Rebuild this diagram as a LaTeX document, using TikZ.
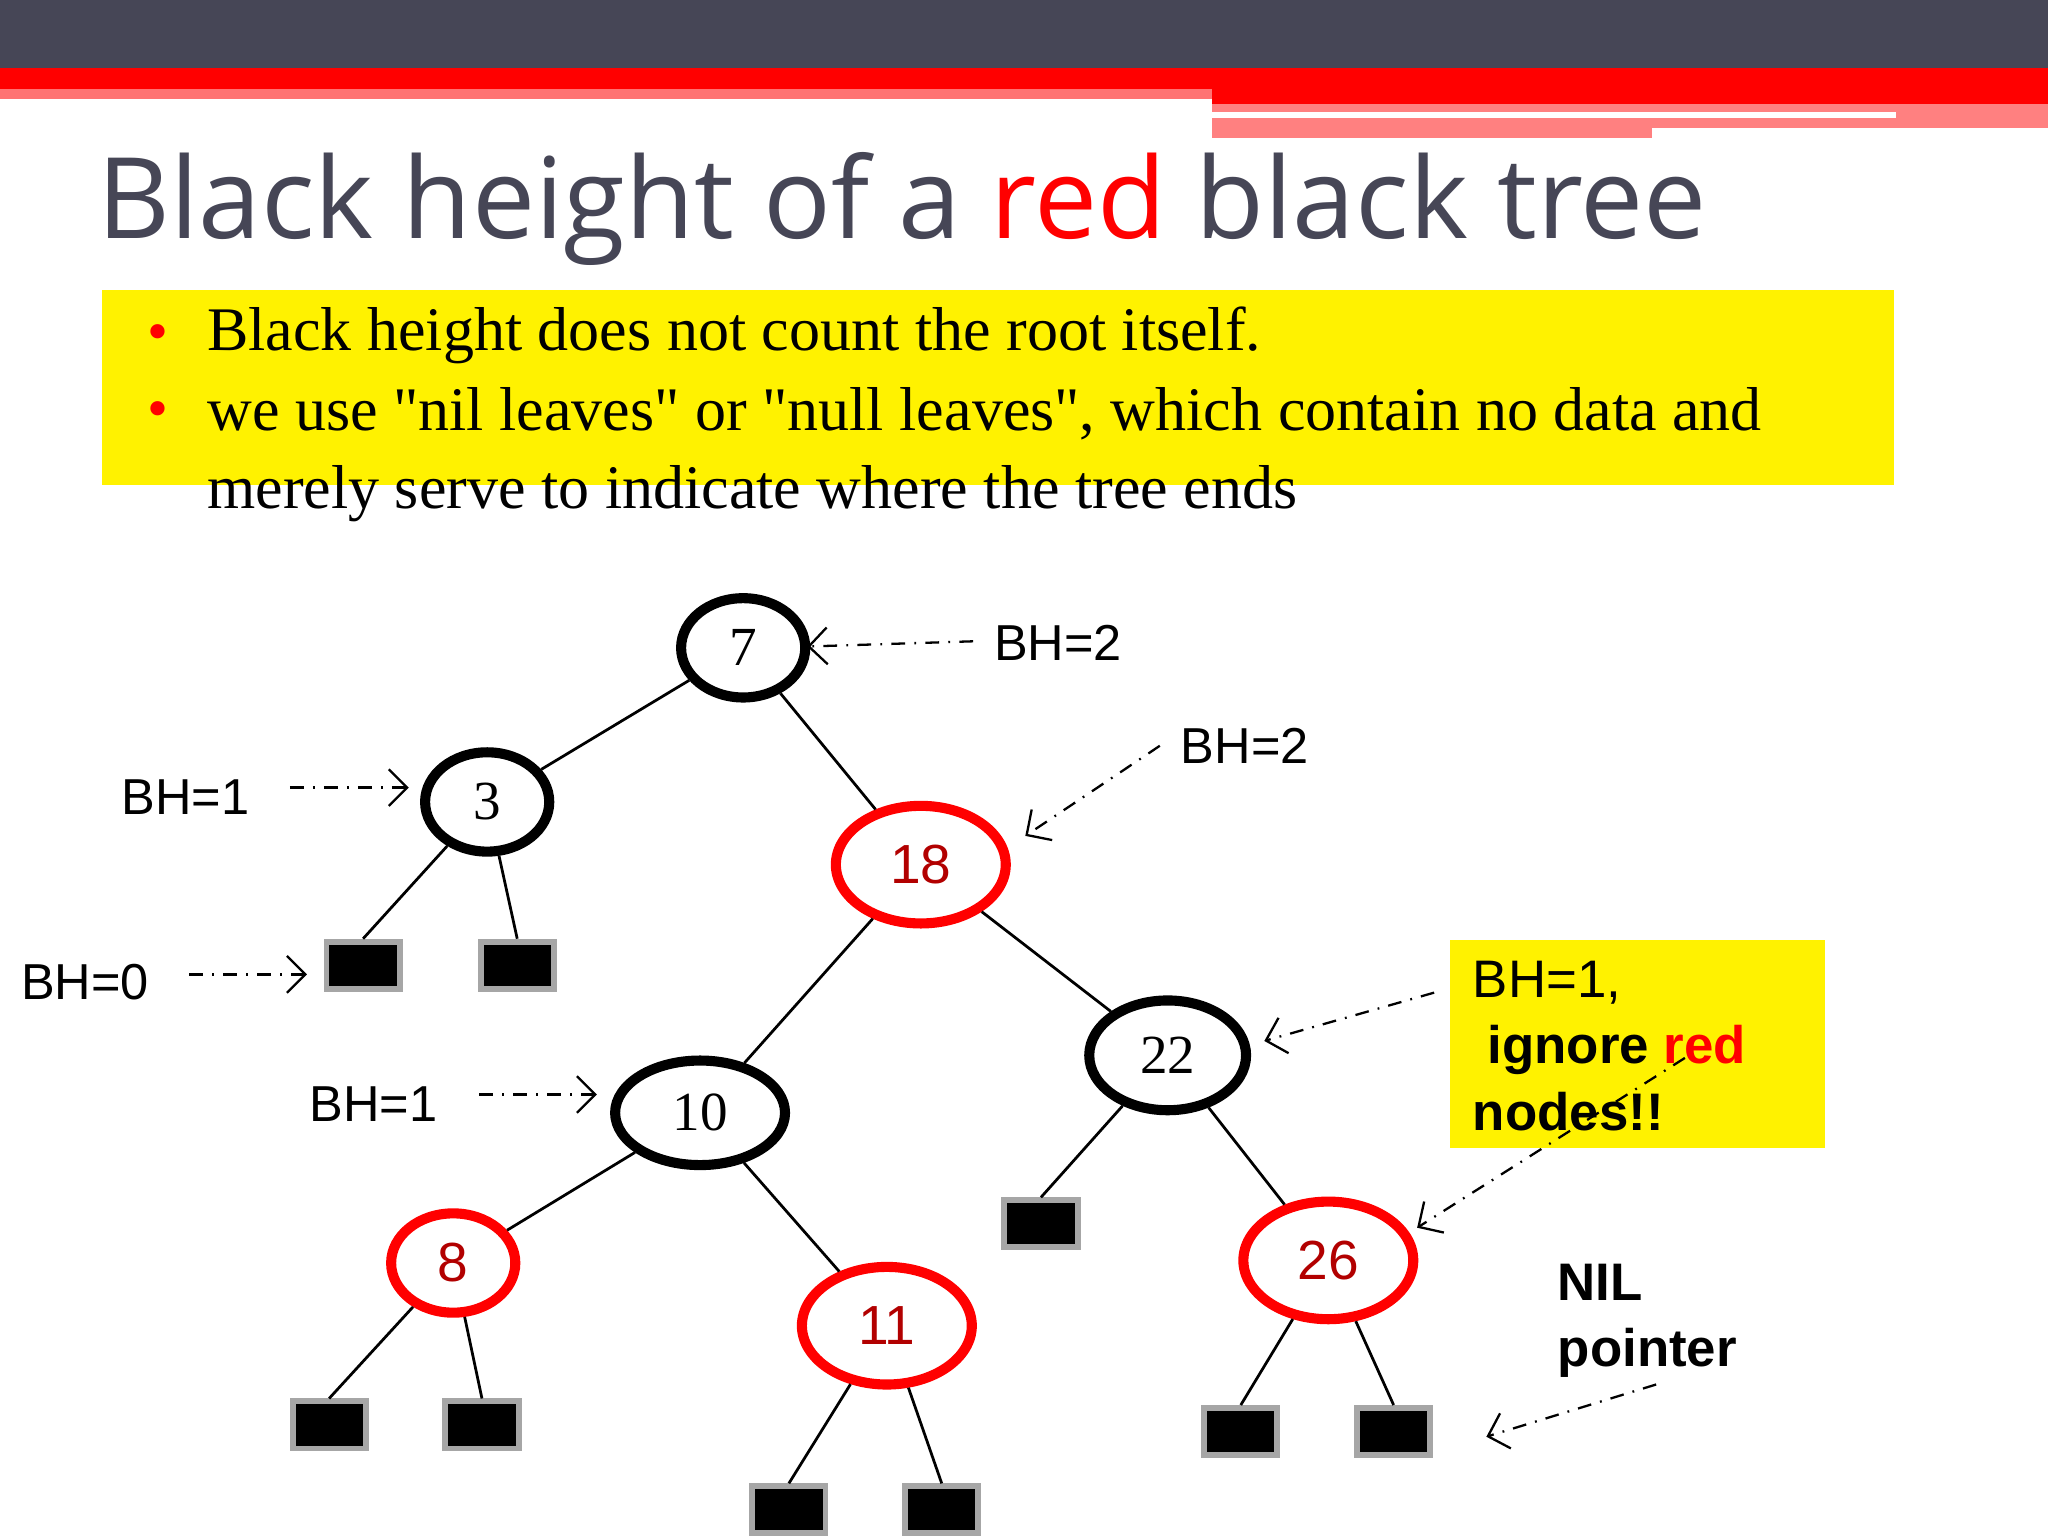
\documentclass[tikz,border=0pt]{standalone}
\usepackage{fontspec}
\setmainfont{Liberation Serif}
\newfontfamily\arialf{Liberation Sans}
\newfontfamily\titlef{Open Sans}
\usetikzlibrary{shapes.geometric,arrows.meta}
\definecolor{slate}{RGB}{70,70,86}
\begin{document}
\begin{tikzpicture}[x=0.01cm,y=-0.01cm,
  bn/.style={ellipse,draw=black,line width=2.2pt,fill=white,minimum width=#1,font=\fontsize{12}{14}\selectfont},
  rn/.style={ellipse,draw=red,line width=2.2pt,fill=white,minimum width=#1,font=\arialf\fontsize{12}{14}\selectfont\color{red!70!black}},
  leaf/.style={rectangle,fill=black,draw=gray!70,line width=1.3pt,minimum width=0.56cm,minimum height=0.36cm,inner sep=0pt},
  bh/.style={font=\arialf\fontsize{11}{13}\selectfont},
  pt/.style={-{Straight Barb[length=4pt]},dash dot,line width=0.5pt},
  edge/.style={line width=0.6pt}]
\useasboundingbox (0,0) rectangle (1568,1176);
\fill[white] (0,0) rectangle (1568,1176);
% header
\fill[slate] (0,0) rectangle (1568,52);
\fill[red] (0,52) rectangle (1568,68);
\fill[red!55] (0,68) rectangle (928,76);
\fill[red] (928,68) rectangle (1568,80);
\fill[red!50] (928,80) rectangle (1568,106);
\draw[white,line width=1.2pt] (928,88) -- (1452,88);
\fill[white] (1265,98) rectangle (1568,106);
% title
\node[anchor=west,font=\titlef\fontsize{24.5}{28}\selectfont,text=slate] (title) at (62,160) {Black height of a \textcolor{red}{red} black tree};
% yellow box
\fill[yellow] (78,222) rectangle (1450,371);
\node[red,font=\fontsize{13}{15}\selectfont] (b1) at (121,259) {\textbullet};
\node[red,font=\fontsize{13}{15}\selectfont] (b2) at (121,318) {\textbullet};
\node[anchor=west,inner sep=0pt,font=\fontsize{13.5}{16}\selectfont] (t1) at (158,257) {Black height does not count the root itself.};
\node[anchor=north west,align=left,font=\fontsize{13.5}{17}\selectfont,inner sep=0pt] (t2) at (158,296) {we use \textquotedbl nil leaves\textquotedbl{} or \textquotedbl null leaves\textquotedbl, which contain no data and\\merely serve to indicate where the tree ends};
% nodes
\node[bn=0.95cm,minimum height=0.76cm] (n7) at (569,496) {7};
\node[bn=0.95cm,minimum height=0.76cm] (n3) at (373,614) {3};
\node[rn=1.3cm,minimum height=0.9cm] (n18) at (705,662) {18};
\node[bn=1.2cm,minimum height=0.84cm] (n22) at (894,808) {22};
\node[bn=1.3cm,minimum height=0.8cm] (n10) at (536,852) {10};
\node[rn=0.95cm,minimum height=0.76cm] (n8) at (347,967) {8};
\node[rn=1.3cm,minimum height=0.9cm] (n11) at (679,1015) {11};
\node[rn=1.3cm,minimum height=0.9cm] (n26) at (1017,965) {26};
\foreach \n/\x/\y in {l1/278/739,l2/396/739,l3/797/937,l4/252/1091,l5/369/1091,l6/604/1156,l7/721/1156,l8/950/1096,l9/1067/1096}
  \node[leaf] (\n) at (\x,\y) {};
% edges
\draw[edge] (n7) -- (n3); \draw[edge] (n7) -- (n18);
\draw[edge] (n3) -- (l1.north); \draw[edge] (n3) -- (l2.north);
\draw[edge] (n18) -- (n10); \draw[edge] (n18) -- (n22);
\draw[edge] (n22) -- (l3.north); \draw[edge] (n22) -- (n26);
\draw[edge] (n10) -- (n8); \draw[edge] (n10) -- (n11);
\draw[edge] (n8) -- (l4.north); \draw[edge] (n8) -- (l5.north);
\draw[edge] (n11) -- (l6.north); \draw[edge] (n11) -- (l7.north);
\draw[edge] (n26) -- (l8.north); \draw[edge] (n26) -- (l9.north);
% labels
\node[bh] (h1) at (810,492) {BH=2};
\node[bh] (h2) at (953,571) {BH=2};
\node[bh] (h3) at (142,610) {BH=1};
\node[bh] (h4) at (65,752) {BH=0};
\node[bh] (h5) at (286,845) {BH=1};
\coordinate (a1) at (745,491); \coordinate (e1) at (618,495);
\coordinate (a2) at (888,571); \coordinate (e2) at (785,640);
\coordinate (a3) at (222,603); \coordinate (e3) at (313,603);
\coordinate (a4) at (145,746); \coordinate (e4) at (235,746);
\coordinate (a5) at (367,838); \coordinate (e5) at (457,838);
\draw[pt] (a1) -- (e1); \draw[pt] (a2) -- (e2); \draw[pt] (a3) -- (e3);
\draw[pt] (a4) -- (e4); \draw[pt] (a5) -- (e5);
% note box
\fill[yellow] (1110,720) rectangle (1397,879);
\node[anchor=north west,align=left,inner sep=0pt,font=\arialf\fontsize{11.5}{14.5}\selectfont] (note) at (1127,735) {BH=1,\\\ \textbf{ignore \textcolor{red}{red}}\\\textbf{nodes!!}};
\coordinate (a6) at (1098,760); \coordinate (e6) at (968,797);
\coordinate (a7) at (1290,810); \coordinate (e7) at (1085,940);
\draw[pt] (a6) -- (e6); \draw[pt] (a7) -- (e7);
\node[anchor=north west,align=left,inner sep=0pt,font=\arialf\bfseries\fontsize{11.5}{14.5}\selectfont] (nil) at (1192,967) {NIL\\pointer};
\coordinate (a8) at (1268,1060); \coordinate (e8) at (1138,1100);
\draw[pt] (a8) -- (e8);
\end{tikzpicture}
\end{document}
